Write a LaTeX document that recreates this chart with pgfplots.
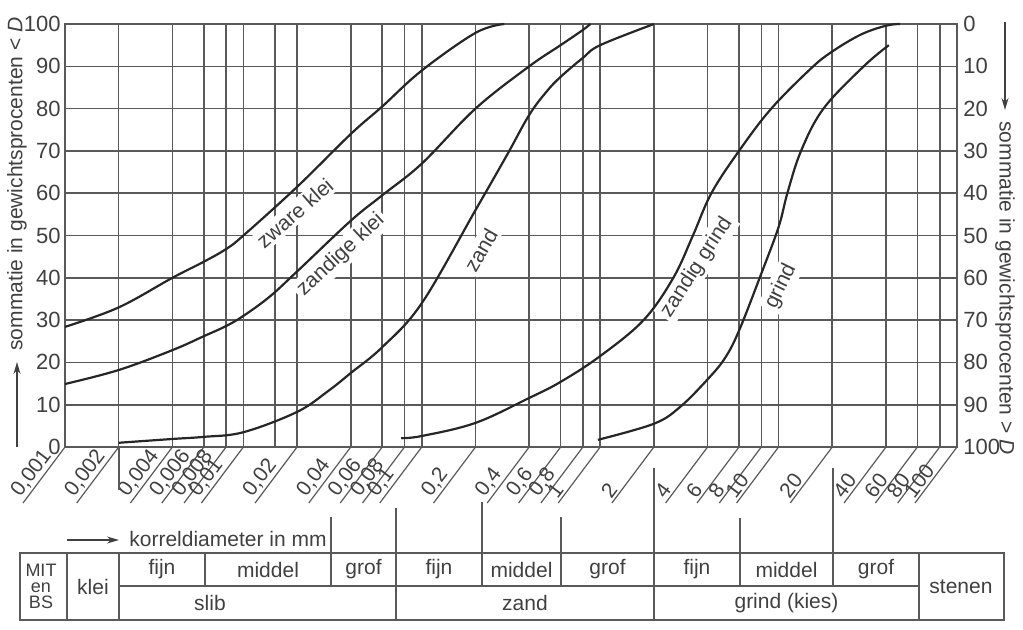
\documentclass[border=0pt]{standalone}
\usepackage{fontspec}
\setmainfont{Liberation Sans}
\usepackage{pgfplots}
\pgfplotsset{compat=1.18}
\usetikzlibrary{arrows.meta}

\begin{document}
\begin{tikzpicture}[
  txt/.style={text=black!75, font=\fontsize{10.5}{12}\selectfont},
  num/.style={text=black!75, font=\fontsize{11}{12}\selectfont},
  ln/.style={draw=black!65, line width=0.8pt},
  crv/.style={black!85, line width=1.1pt, smooth, tension=0.6, mark=none},
  lab/.style={txt, fill=white, inner sep=1.5pt},
  xl/.style={num, font=\fontsize{10.5}{12}\selectfont, anchor=south west, rotate=53, inner sep=1pt},
  arr/.style={draw=black!75, line width=0.7pt, -{Stealth[length=6pt,width=3.5pt]}},
]
% 1 px of the reference = 0.5pt, axis box lower left at (0,0)
\path[use as bounding box] (-32.5pt,-91pt) rectangle (479pt,223.5pt);

\begin{axis}[
  at={(0pt,0pt)}, anchor=south west,
  scale only axis, width=446pt, height=211.5pt,
  xmode=log, xmin=0.001, xmax=100, ymin=0, ymax=100,
  xtick={0.001,0.002,0.004,0.006,0.008,0.01,0.02,0.04,0.06,0.08,0.1,0.2,0.4,0.6,0.8,1,2,4,6,8,10,20,40,60,80,100},
  xticklabel=\empty,
  extra x ticks={0.015}, extra x tick style={xticklabel=\empty},
  xminorticks=false,
  ytick={0,10,...,100},
  grid=major,
  major grid style={draw=black!65, line width=0.8pt},
  axis line style={draw=black!65, line width=0.8pt},
  major tick length=0pt,
  yticklabel style={num, inner sep=1pt, xshift=-1pt},
  /pgf/number format/assume math mode=true,
  clip=false,
]
% curve names (white boxes break the grid as in the drawing)
\node[lab, rotate=41] at (axis cs:0.0194,55.3) {zware klei};
\node[lab, rotate=43] at (axis cs:0.0352,45.4) {zandige klei};
\node[lab, rotate=60] at (axis cs:0.214,46.6) {zand};
\node[lab, rotate=57] at (axis cs:3.48,42.5) {zandig grind};
\node[lab, rotate=64] at (axis cs:10.3,38) {grind};

% zware klei
\addplot[crv] coordinates {(0.001,28.4) (0.002,33) (0.004,40) (0.006,43.8) (0.008,46.8) (0.01,50) (0.02,61.5) (0.04,74) (0.06,80.5) (0.1,89) (0.2,97.9) (0.29,100)};
% zandige klei
\addplot[crv] coordinates {(0.001,14.9) (0.002,18.2) (0.004,22.9) (0.006,26.2) (0.008,28.6) (0.01,31) (0.014,35.5) (0.02,41.5) (0.04,53.5) (0.06,59.5) (0.1,67) (0.2,80) (0.4,90) (0.6,95) (0.8,98.6) (0.88,100)};
% zand
\addplot[crv] coordinates {(0.002,1) (0.004,1.9) (0.006,2.4) (0.01,3.5) (0.02,8.3) (0.03,13.3) (0.04,17.5) (0.06,23.6) (0.1,34) (0.2,56) (0.3,69) (0.4,78.5) (0.5,84) (0.6,87.5) (0.8,92) (1,95) (2,100)};
% zandig grind
\addplot[crv] coordinates {(0.0766,2.1) (0.1,2.6) (0.2,5.7) (0.4,11.6) (0.6,15.4) (1,21.5) (1.75,30) (2.57,40) (3.31,50) (4.2,60) (6,70) (9.1,80) (15.2,89.5) (20,93.5) (28.9,97.5) (40,99.6) (48,100)};
% grind
\addplot[crv] coordinates {(0.97,1.7) (2,5.5) (2.81,9.5) (4,16) (5,21) (6,27.5) (8,41) (10,52) (11.2,60) (13.36,70) (17.85,80) (30,90) (41.5,95)};

% slanted diameter labels
\foreach \v/\l in {0.001/{0,001},0.002/{0,002},0.004/{0,004},0.006/{0,006},0.008/{0,008},0.01/{0,01},0.02/{0,02},0.04/{0,04},0.06/{0,06},0.08/{0,08},0.1/{0,1},0.2/{0,2},0.4/{0,4},0.6/{0,6},0.8/{0,8},1/1,2/2,4/4,6/6,8/8,10/10,20/20,40/40,60/60,80/80,100/100}{%
  \edef\tmp{\noexpand\draw[ln, line width=0.6pt] (axis cs:\v,0) -- ++(-21pt,-28pt) node[xl] {\l};}%
  \tmp
}
\end{axis}

% right-hand scale, 0 at the top
\begin{axis}[
  at={(0pt,0pt)}, anchor=south west,
  scale only axis, width=446pt, height=211.5pt,
  xmin=0, xmax=1, ymin=0, ymax=100, y dir=reverse,
  hide x axis, axis y line*=right, axis line style={draw=none},
  ytick={0,10,...,100}, major tick length=0pt,
  yticklabel style={num, inner sep=1pt, xshift=2pt},
  /pgf/number format/assume math mode=true,
]
\end{axis}

% axis titles
\draw[arr] (-24pt,0pt) -- (-24pt,42.5pt);
\node[txt, rotate=90, anchor=west, inner sep=0pt] at (-24pt,48pt) {sommatie in gewichtsprocenten < \textit{D}};
\draw[arr] (470pt,212.5pt) -- (470pt,168.5pt);
\node[txt, rotate=-90, anchor=west, inner sep=0pt] at (470pt,163pt) {sommatie in gewichtsprocenten > \textit{D}};
\draw[arr] (1pt,-46.5pt) -- (27pt,-46.5pt);
\node[txt, anchor=west, inner sep=0pt] at (32pt,-46pt) {korreldiameter in mm};

% classification table
\draw[ln] (-22.5pt,-53pt) rectangle (469.5pt,-86.5pt);
\foreach \x in {1,27,165.5,294.5,427} \draw[ln] (\x pt,-53pt) -- (\x pt,-86.5pt);
\foreach \x in {70,133,208.5,248,337.5,384} \draw[ln] (\x pt,-53pt) -- (\x pt,-69.5pt);
\draw[ln] (27pt,-69.5pt) -- (427pt,-69.5pt);
\foreach \x/\y in {133/-35,165.5/-30.5,208.5/-27.5,248/-35,294.5/-10.5,337.5/-35.5,384/-10.5} \draw[ln] (\x pt,\y pt) -- (\x pt,-53pt);
\draw[ln] (27pt,0pt) -- (27pt,-21.5pt);

\node[txt, align=center, font=\fontsize{9}{8}\selectfont] at (-12pt,-69.75pt) {MIT\\en\\BS};
\node[txt] at (14pt,-69.75pt) {klei};
\node[txt] at (448pt,-69.75pt) {stenen};
\node[txt] at (48.5pt,-61.25pt) {fijn};
\node[txt] at (101.5pt,-61.25pt) {middel};
\node[txt] at (149.25pt,-61.25pt) {grof};
\node[txt] at (187pt,-61.25pt) {fijn};
\node[txt] at (228.25pt,-61.25pt) {middel};
\node[txt] at (271.25pt,-61.25pt) {grof};
\node[txt] at (316pt,-61.25pt) {fijn};
\node[txt] at (360.75pt,-61.25pt) {middel};
\node[txt] at (405.5pt,-61.25pt) {grof};
\node[txt] at (72.5pt,-78pt) {slib};
\node[txt] at (230pt,-78pt) {zand};
\node[txt] at (360.75pt,-78pt) {grind (kies)};
\end{tikzpicture}
\end{document}
